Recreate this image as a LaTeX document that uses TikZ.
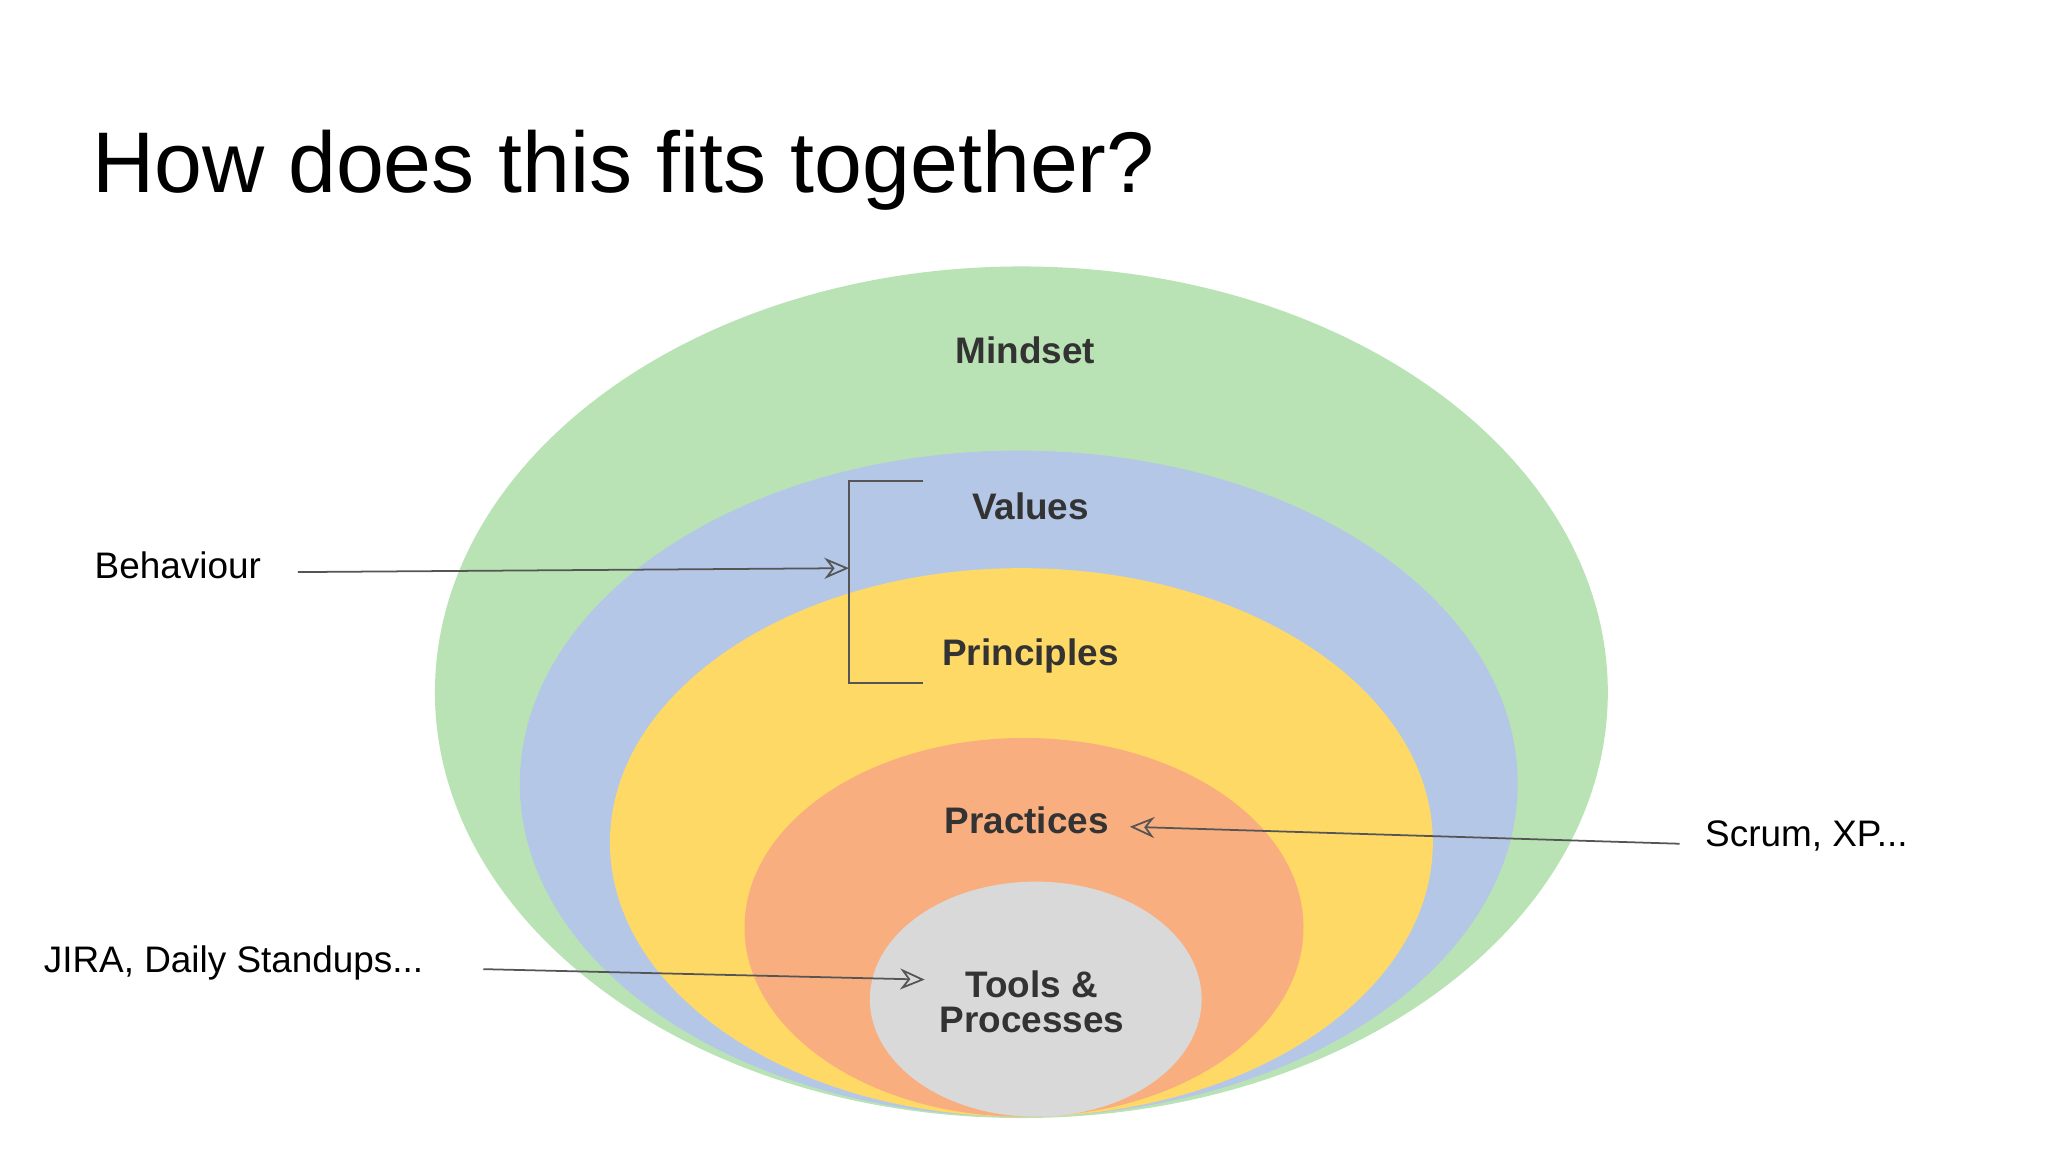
\documentclass[tikz,border=0pt]{standalone}
\usepackage{fontspec}
\setmainfont{Liberation Sans}
\usetikzlibrary{arrows.meta}
\definecolor{cgreen}{HTML}{B9E3B4}
\definecolor{cblue}{HTML}{B4C7E7}
\definecolor{cyellow}{HTML}{FFD966}
\definecolor{corange}{HTML}{F8AE7E}
\definecolor{cgray}{HTML}{D9D9D9}
\definecolor{ctext}{HTML}{333333}
\definecolor{carrow}{HTML}{555555}
\begin{document}
\begin{tikzpicture}[x=0.01306cm,y=-0.01306cm,
  lay/.style={font=\fontsize{10.5}{12}\selectfont\bfseries, text=ctext, align=center},
  side/.style={font=\fontsize{10.5}{12}\selectfont, text=black, inner sep=0pt},
  arr/.style={carrow, line width=0.5pt, -{Stealth[length=7pt,width=6pt,open]}}]
\useasboundingbox (0,0) rectangle (1568,882);
\fill[cgreen] (782,530) ellipse [x radius=449, y radius=326];
\fill[cblue] (780,600) ellipse [x radius=382, y radius=255];
\fill[cyellow] (782,645) ellipse [x radius=315, y radius=210];
\fill[corange] (784,710) ellipse [x radius=214, y radius=145];
\fill[cgray] (793,765) ellipse [x radius=127, y radius=90];
\node[anchor=west, font=\fontsize{24.5}{28}\selectfont, inner sep=0pt] (title) at (70,130) {How does this fits together?};
\node[lay] (mind) at (785,268) {Mindset};
\node[lay] (val) at (789,388) {Values};
\node[lay] (pri) at (789,502) {Principles};
\node[lay] (pra) at (786,628) {Practices};
\node[lay] (tools) at (790,767) {Tools \&\\[-2pt]Processes};
\coordinate (b1) at (707,368);
\coordinate (b2) at (707,523);
\coordinate (bm) at (650,435);
\draw[carrow, line width=0.6pt] (b1) -- (650,368) -- (650,523) -- (b2);
\node[side, anchor=west] (beh) at (72,433) {Behaviour};
\node[side, anchor=west] (scrum) at (1305,640) {Scrum, XP...};
\node[side, anchor=west] (jira) at (33,737) {JIRA, Daily Standups...};
\coordinate (s1) at (228,438);
\coordinate (s2) at (1286,646);
\coordinate (s3) at (370,742);
\coordinate (t2) at (865,633);
\coordinate (t3) at (708,750);
\draw[arr] (s1) -- (bm);
\draw[arr] (s2) -- (t2);
\draw[arr] (s3) -- (t3);
\end{tikzpicture}
\end{document}
